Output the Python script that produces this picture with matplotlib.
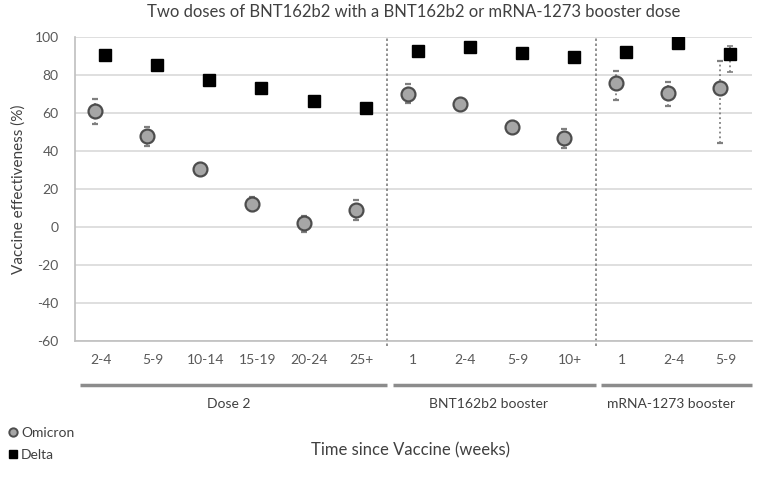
import numpy as np
import matplotlib.pyplot as plt
from matplotlib.lines import Line2D
from matplotlib.transforms import blended_transform_factory

plt.rcParams['font.family'] = ['Lato', 'DejaVu Sans']
plt.rcParams['axes.unicode_minus'] = False

# categories (weeks since vaccine) and groups
weeks = ['2-4', '5-9', '10-14', '15-19', '20-24', '25+',
         '1', '2-4', '5-9', '10+',
         '1', '2-4', '5-9']
groups = ['Dose 2', 'BNT162b2 booster', 'mRNA-1273 booster']
group_sizes = [6, 4, 3]

# vaccine effectiveness (%) with 95% CI
omicron = [61, 48, 30.5, 12, 2, 9, 70, 64.5, 52.7, 46.7, 75.6, 70.5, 73]
omicron_lo = [54.2, 42.6, 27.3, 8.6, -2.6, 3.8, 65.2, 62.5, 50.5, 41.6, 67, 63.7, 44]
omicron_hi = [67.5, 52.8, 33.8, 16, 5.9, 14.4, 75.3, 67.5, 55.7, 51.7, 82.3, 76.4, 87.6]

delta = [90.4, 85, 77.6, 73.3, 66.3, 62.5, 92.4, 94.8, 91.7, 89.6, 92, 96.8, 90.8]
delta_lo = [89, 84, 76.5, 72, 65, 61, 91.5, 94, 91, 88.5, 91, 96, 81.4]
delta_hi = [91.5, 86, 78.5, 74.5, 67.5, 63.5, 93.3, 95.5, 92.5, 90.5, 93, 97.5, 95]

grey = '#595959'
x = np.arange(len(weeks))

fig = plt.figure(figsize=(7.67, 4.86), dpi=100)
ax = fig.add_axes([0.098, 0.298, 0.882, 0.626])

# gridlines
ax.set_ylim(-60, 100)
ax.set_yticks(np.arange(-60, 101, 20))
ax.yaxis.grid(True, color='#d9d9d9', linewidth=1.2)
ax.set_axisbelow(True)

eb = ax.errorbar(x - 0.11, omicron,
                 yerr=[np.subtract(omicron, omicron_lo), np.subtract(omicron_hi, omicron)],
                 fmt='o', ms=10, mfc='#a6a6a6', mec='#4d4d4d', mew=1.6,
                 ecolor='#7f7f7f', elinewidth=1.3, capsize=2.5, capthick=1.2, zorder=3)
eb[2][0].set_linestyle(':')

eb2 = ax.errorbar(x + 0.08, delta,
                  yerr=[np.subtract(delta, delta_lo), np.subtract(delta_hi, delta)],
                  fmt='s', ms=8.5, mfc='black', mec='black',
                  ecolor='#7f7f7f', elinewidth=1.3, capsize=2.5, capthick=1.2, zorder=3)
eb2[2][0].set_linestyle(':')

ax.set_xlim(-0.5, len(weeks) - 0.5)
ax.set_xticks(x)
ax.set_xticklabels(weeks)
ax.tick_params(axis='both', length=0, colors=grey, labelsize=10)
ax.tick_params(axis='x', pad=9)
ax.tick_params(axis='y', pad=12)

for s in ['top', 'right']:
    ax.spines[s].set_visible(False)
for s in ['left', 'bottom']:
    ax.spines[s].set_color('#bfbfbf')
    ax.spines[s].set_linewidth(1.2)

# group separators, underlines and labels
trans = blended_transform_factory(ax.transData, ax.transAxes)
edges = np.cumsum([0] + group_sizes)
for i, name in enumerate(groups):
    start, end = edges[i], edges[i + 1]
    if i > 0:
        ax.plot([start - 0.5, start - 0.5], [-0.015, 1.0], transform=trans,
                color='#7f7f7f', linestyle=(0, (1.5, 1.5)), linewidth=1.2, clip_on=False)
    ax.plot([start - 0.4, end - 0.5], [-0.145, -0.145], transform=trans,
            color='#8c8c8c', linewidth=2.5, clip_on=False, solid_capstyle='butt')
    ax.text((start + end - 1) / 2 - 0.05, -0.205, name, transform=trans,
            ha='center', va='center', fontsize=10, color='#404040')

ax.set_ylabel('Vaccine effectiveness (%)', fontsize=11, color='#404040', labelpad=6)
ax.set_title('Two doses of BNT162b2 with a BNT162b2 or mRNA-1273 booster dose',
             fontsize=12, color='#404040', pad=14)
fig.text(0.535, 0.073, 'Time since Vaccine (weeks)', ha='center', va='center',
         fontsize=12, color='#404040')

handles = [Line2D([], [], marker='o', linestyle='none', ms=6, mfc='#a6a6a6',
                  mec='#4d4d4d', mew=1.4),
           Line2D([], [], marker='s', linestyle='none', ms=6, mfc='black', mec='black')]
fig.legend(handles, ['Omicron', 'Delta'], loc='center left', bbox_to_anchor=(-0.005, 0.087),
           frameon=False, fontsize=10, handlelength=0.6, handletextpad=0.3,
           labelspacing=0.7, labelcolor='#404040')

fig.savefig('out.png', dpi=100)
